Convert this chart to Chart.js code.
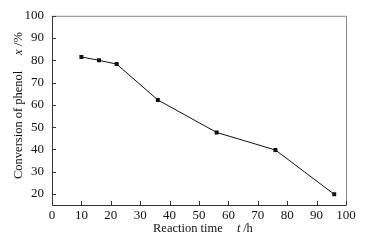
<!DOCTYPE html>
<html>
<head>
<meta charset="utf-8">
<script src="https://cdn.jsdelivr.net/npm/chart.js@4"></script>
<style>
  html, body { margin: 0; padding: 0; background: #fff; }
  #wrap { width: 371px; height: 240px; }
</style>
</head>
<body>
<div id="wrap"><canvas id="phenolChart" width="371" height="240"></canvas></div>
<script>
// reaction time (h) and phenol conversion (%)
const reactionTime = [10, 16, 22, 36, 56, 76, 96];
const conversion = [81.5, 80, 78.3, 62.2, 47.6, 39.7, 19.8];
const xTicks = [0, 10, 20, 30, 40, 50, 60, 70, 80, 90, 100];
const yTicks = [20, 30, 40, 50, 60, 70, 80, 90, 100];

const FONT = '"Liberation Serif", "Times New Roman", serif';

// frame, inward ticks and axis titles (with italic symbols)
const framePlugin = {
  id: 'frame',
  afterDraw(chart) {
    const { ctx, chartArea: a, scales } = chart;
    ctx.save();
    ctx.strokeStyle = '#8a8a8a';
    ctx.lineWidth = 1;
    ctx.strokeRect(a.left + 0.5, a.top + 0.5, a.right - a.left, a.bottom - a.top);

    ctx.strokeStyle = '#333';
    ctx.beginPath();
    ctx.moveTo(a.left + 0.5, a.top);
    ctx.lineTo(a.left + 0.5, a.bottom + 0.5);
    ctx.lineTo(a.right, a.bottom + 0.5);
    xTicks.forEach(v => {
      const x = Math.round(scales.x.getPixelForValue(v)) + 0.5;
      ctx.moveTo(x, a.bottom);
      ctx.lineTo(x, a.bottom - 4);
    });
    yTicks.forEach(v => {
      const y = Math.round(scales.y.getPixelForValue(v)) + 0.5;
      ctx.moveTo(a.left, y);
      ctx.lineTo(a.left + 4, y);
    });
    ctx.stroke();

    ctx.fillStyle = '#111';
    ctx.textBaseline = 'middle';
    ctx.textAlign = 'left';
    const reg = '12.5px ' + FONT;
    const ita = 'italic 12.5px ' + FONT;
    // x title
    ctx.font = reg;
    ctx.fillText('Reaction time', 153, 229);
    ctx.font = ita;
    ctx.fillText('t', 237, 229);
    ctx.font = reg;
    ctx.fillText(' /h', 240, 229);

    // y title
    ctx.translate(19, 179);
    ctx.rotate(-Math.PI / 2);
    ctx.font = reg;
    ctx.fillText('Conversion of phenol', 0, 0);
    ctx.font = ita;
    ctx.fillText('x', 124, 0);
    ctx.font = reg;
    ctx.fillText(' /%', 130, 0);
    ctx.restore();
  }
};

new Chart(document.getElementById('phenolChart'), {
  type: 'line',
  data: {
    datasets: [{
      data: reactionTime.map((t, i) => ({ x: t, y: conversion[i] })),
      borderColor: '#111',
      borderWidth: 1,
      backgroundColor: '#111',
      pointStyle: 'rect',
      pointRadius: 2.8,
      pointBorderWidth: 0,
      tension: 0
    }]
  },
  options: {
    responsive: false,
    animation: false,
    layout: { padding: { left: 0, right: 25, top: 13, bottom: 0 } },
    plugins: { legend: { display: false }, tooltip: { enabled: false } },
    scales: {
      x: {
        type: 'linear',
        min: 0,
        max: 100,
        grid: { display: false, drawTicks: false },
        border: { display: false },
        afterBuildTicks: s => { s.ticks = xTicks.map(v => ({ value: v })); },
        afterFit: s => { s.height = 35; },
        ticks: { color: '#111', padding: 3, maxRotation: 0, font: { family: FONT, size: 13 } }
      },
      y: {
        min: 15,
        max: 100,
        grid: { display: false, drawTicks: false },
        border: { display: false },
        afterBuildTicks: s => { s.ticks = yTicks.map(v => ({ value: v })); },
        afterFit: s => { s.width = 52; },
        ticks: { color: '#111', padding: 8, font: { family: FONT, size: 13 } }
      }
    }
  },
  plugins: [framePlugin]
});
</script>
</body>
</html>
